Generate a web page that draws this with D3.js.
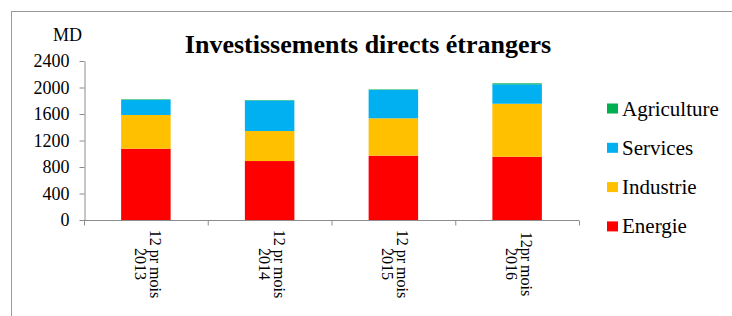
<!DOCTYPE html>
<html>
<head>
<meta charset="utf-8">
<script src="https://cdn.jsdelivr.net/npm/d3@7"></script>
<style>
  body { margin: 0; background: #fff; }
  svg text { font-family: "Liberation Serif", Tinos, "Times New Roman", Times, "Nimbus Roman", "DejaVu Serif", "Noto Serif", serif; }
</style>
</head>
<body>
<div id="chart"></div>
<script>
// data (MD)
const periods = ["12 pr mois|2013", "12 pr mois|2014", "12 pr mois|2015", "12pr mois|2016"];
const sectors = ["Energie", "Industrie", "Services", "Agriculture"];
const energie = [1076, 890, 971, 955];
const industrie = [509, 453, 564, 800];
const services = [226, 460, 427, 293];
const agriculture = [9, 7, 8, 15];
const yTicks = [0, 400, 800, 1200, 1600, 2000, 2400];
const colors = ["#ff0000", "#ffc000", "#00b0f0", "#00b050"];

const W = 732, H = 316;
const svg = d3.select("#chart").append("svg")
    .attr("width", W)
    .attr("height", H);

// outer frame (only top and left visible)
svg.append("rect")
    .attr("x", 11.5).attr("y", 11.5)
    .attr("width", W + 20).attr("height", H + 20)
    .attr("fill", "none")
    .attr("stroke", "#9a9a9a")
    .attr("stroke-width", 1);

const plot = {left: 84, right: 579, top: 61, bottom: 220};

const table = periods.map((p, i) => ({
    period: p,
    Energie: energie[i],
    Industrie: industrie[i],
    Services: services[i],
    Agriculture: agriculture[i]
}));

const x = d3.scaleBand()
    .domain(periods)
    .range([plot.left, plot.right])
    .paddingInner(0.6)
    .paddingOuter(0.3);

const y = d3.scaleLinear()
    .domain([0, 2400])
    .range([plot.bottom, plot.top]);

const color = d3.scaleOrdinal().domain(sectors).range(colors);

const stacked = d3.stack().keys(sectors)(table);

svg.append("g")
    .selectAll("g")
    .data(stacked)
    .join("g")
    .attr("fill", d => color(d.key))
    .selectAll("rect")
    .data(d => d)
    .join("rect")
    .attr("x", d => x(d.data.period))
    .attr("y", d => y(d[1]))
    .attr("width", x.bandwidth())
    .attr("height", d => y(d[0]) - y(d[1]));

// y axis
const yAxis = svg.append("g")
    .attr("transform", `translate(${plot.left + 0.5},0)`)
    .call(d3.axisLeft(y).tickValues(yTicks).tickFormat(d3.format("d"))
        .tickSize(5).tickPadding(10).tickSizeOuter(0));
yAxis.attr("font-family", null).attr("font-size", null);
yAxis.selectAll("text")
    .style("font-size", "18px")
    .attr("fill", "#000");

// x axis: ticks at category boundaries
const step = (plot.right - plot.left) / periods.length;
const xAxis = svg.append("g")
    .attr("transform", `translate(0,${plot.bottom + 0.5})`);
xAxis.append("line")
    .attr("x1", plot.left).attr("x2", plot.right)
    .attr("stroke", "#8c8c8c");
xAxis.selectAll("line.tk")
    .data(d3.range(periods.length + 1))
    .join("line")
    .attr("class", "tk")
    .attr("x1", i => plot.left + i * step + 0.5)
    .attr("x2", i => plot.left + i * step + 0.5)
    .attr("y1", 0).attr("y2", 5)
    .attr("stroke", "#8c8c8c");

svg.selectAll(".domain, .tick line").attr("stroke", "#8c8c8c");

// rotated category labels
const lab = svg.append("g").selectAll("text")
    .data(periods)
    .join("text")
    .attr("transform", d => `translate(${x(d) + x.bandwidth() / 2 + 2},264) rotate(90)`)
    .attr("text-anchor", "middle")
    .style("font-size", "16px");
lab.selectAll("tspan")
    .data(d => d.split("|"))
    .join("tspan")
    .attr("x", 0)
    .attr("y", (d, i) => -2 + i * 15)
    .text(d => d);

// unit
svg.append("text")
    .attr("x", 53).attr("y", 41)
    .style("font-size", "18px")
    .text("MD");

// title
svg.append("text")
    .attr("x", 368).attr("y", 53)
    .attr("text-anchor", "middle")
    .style("font-size", "26px")
    .style("font-weight", "bold")
    .text("Investissements directs étrangers");

// legend
const legend = svg.append("g")
    .selectAll("g")
    .data(sectors.slice().reverse())
    .join("g")
    .attr("transform", (d, i) => `translate(607,${108.5 + i * 39.3})`);
legend.append("rect")
    .attr("x", 0).attr("y", -5)
    .attr("width", 11).attr("height", 10)
    .attr("fill", d => color(d));
legend.append("text")
    .attr("x", 15).attr("y", 7)
    .style("font-size", "21px")
    .text(d => d);
</script>
</body>
</html>
